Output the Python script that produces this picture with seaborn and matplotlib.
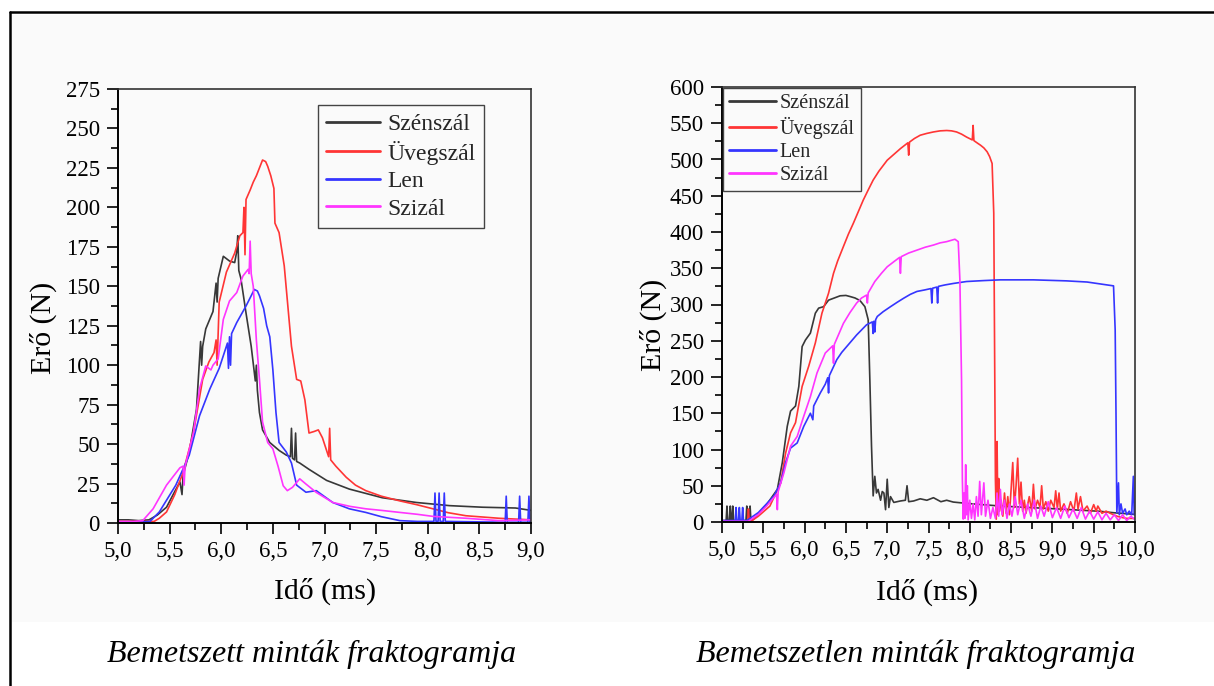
import numpy as np
import pandas as pd
import matplotlib
matplotlib.use("Agg")
import matplotlib.pyplot as plt
import seaborn as sns
from matplotlib.ticker import MultipleLocator, FuncFormatter
from matplotlib.lines import Line2D
from matplotlib.patches import Rectangle

# ---------------- data : left panel (Bemetszett) ----------------
series_names = ["Szénszál", "Üvegszál", "Len", "Szizál"]
series_colors = ["#383838", "#ff3535", "#3535ff", "#ff35ff"]

L_szen_t = [5.00, 5.10, 5.20, 5.30, 5.38, 5.47, 5.55, 5.60, 5.62, 5.63, 5.69, 5.76, 5.80, 5.81, 5.82,
            5.85, 5.92, 5.95, 5.96, 5.97, 6.02, 6.08, 6.13, 6.15, 6.16, 6.17, 6.19, 6.24, 6.29, 6.33,
            6.34, 6.35, 6.37, 6.40, 6.47, 6.56, 6.63, 6.67, 6.68, 6.69, 6.71, 6.72, 6.73, 6.76, 6.85,
            7.02, 7.24, 7.56, 7.89, 8.21, 8.53, 8.85, 9.00]
L_szen_F = [2, 2, 1.5, 2, 5, 10, 20, 26, 18, 30, 45, 72, 115, 100, 112,
            123, 134, 152, 140, 155, 169, 166, 165, 172, 182, 160, 155, 133, 112, 90,
            100, 84, 70, 59, 51, 46, 43, 42, 60, 41, 40, 57, 39, 38, 34,
            27, 21.5, 16, 13, 11, 10, 9.5, 8]

L_uveg_t = [5.00, 5.20, 5.35, 5.40, 5.47, 5.55, 5.63, 5.73, 5.82, 5.88, 5.93, 5.95, 5.96, 5.98, 6.05,
            6.13, 6.18, 6.21, 6.22, 6.23, 6.24, 6.28, 6.31, 6.34, 6.37, 6.40, 6.43, 6.45, 6.48, 6.51,
            6.52, 6.56, 6.61, 6.68, 6.73, 6.77, 6.81, 6.85, 6.90, 6.94, 6.98, 7.04, 7.05, 7.06, 7.11,
            7.21, 7.30, 7.40, 7.55, 7.73, 7.90, 8.05, 8.20, 8.37, 8.69, 9.00]
L_uveg_F = [1, 1, 1, 3, 7, 18, 32, 57, 91, 102, 108, 116, 100, 140, 159,
            171, 182, 184, 200, 170, 205, 211, 216, 220, 225, 230, 229, 226, 220, 212,
            190, 184, 163, 112, 91, 90, 78, 57, 58, 59, 54, 42, 60, 40, 36,
            29, 24, 20.5, 17, 14, 11.5, 9, 6.5, 4.6, 3, 2]

L_len_t = [5.00, 5.20, 5.31, 5.40, 5.56, 5.69, 5.79, 5.89, 5.98, 6.06, 6.07, 6.08, 6.09, 6.10, 6.15,
           6.24, 6.29, 6.32, 6.35, 6.37, 6.41, 6.44, 6.47, 6.50, 6.53, 6.56, 6.63, 6.68, 6.73, 6.82,
           6.92, 7.08, 7.24, 7.40, 7.55, 7.73, 7.90, 8.05, 8.06, 8.07, 8.08, 8.10, 8.11, 8.12, 8.15,
           8.16, 8.17, 8.75, 8.76, 8.77, 8.88, 8.89, 8.90, 8.97, 8.98, 8.99, 9.00]
L_len_F = [0.5, 0.5, 1, 7, 24, 43, 68, 85, 98, 114, 98, 118, 100, 120, 127,
           137.5, 144, 148, 147, 144, 136, 125, 118, 97, 70, 51, 45, 38, 24, 19.5,
           20.5, 13, 9, 6.7, 4, 1.5, 1, 1, 1, 19, 1, 1, 19, 1, 1,
           19, 1, 0.5, 17, 0.5, 0.5, 17, 0.5, 0.5, 17, 0.5, 0.5]

L_sziz_t = [5.00, 5.15, 5.24, 5.34, 5.47, 5.60, 5.63, 5.64, 5.65, 5.73, 5.79, 5.85, 5.90, 5.92, 5.97,
            6.02, 6.08, 6.15, 6.21, 6.26, 6.27, 6.28, 6.29, 6.31, 6.34, 6.37, 6.40, 6.45, 6.50, 6.55,
            6.60, 6.64, 6.69, 6.76, 6.82, 6.92, 7.08, 7.25, 7.40, 7.55, 7.73, 7.90, 8.05, 8.37, 8.69,
            9.00]
L_sziz_F = [1, 1, 1.5, 9, 24, 35, 36, 24, 36, 57, 85, 99.5, 97, 100, 104,
            129, 140.7, 146, 156.5, 160.7, 158, 178.6, 158, 150, 116, 91, 64, 51, 47, 36,
            23.6, 20.5, 22.6, 28, 24.7, 19.4, 13, 10.5, 9, 8, 6.7, 5.5, 4.2, 3, 1.5,
            2]

# ---------------- data : right panel (Bemetszetlen) ----------------
R_szen_t = [5.00, 5.05, 5.06, 5.07, 5.09, 5.10, 5.11, 5.12, 5.13, 5.14, 5.29, 5.30, 5.31, 5.33, 5.34,
            5.35, 5.38, 5.54, 5.67, 5.73, 5.79, 5.83, 5.89, 5.93, 5.97, 6.01, 6.07, 6.13, 6.17, 6.23,
            6.29, 6.36, 6.43, 6.50, 6.55, 6.61, 6.67, 6.73, 6.77, 6.79, 6.81, 6.83, 6.85, 6.87, 6.89,
            6.92, 6.94, 6.96, 6.98, 7.00, 7.02, 7.04, 7.08, 7.16, 7.22, 7.24, 7.26, 7.32, 7.40, 7.48,
            7.56, 7.65, 7.72, 7.80, 7.96, 8.37, 8.77, 9.17, 9.58, 9.74, 10.00]
R_szen_F = [2, 2, 22, 2, 2, 22, 2, 2, 22, 2, 2, 22, 2, 2, 22,
            2, 3.7, 24, 45, 82, 132, 153, 160, 187, 242, 251, 260.5, 288, 295, 297,
            306, 309, 312, 312.5, 311, 309, 305.5, 297, 279, 196, 105, 36, 63, 40, 45,
            30, 42, 40, 17, 59, 20, 35, 27, 29, 30, 50, 28, 29, 32, 30,
            33.5, 28, 30, 27.5, 25.7, 22, 19.7, 17.4, 14.7, 12.8, 10.5]

R_uveg_t = [5.00, 5.31, 5.32, 5.33, 5.34, 5.44, 5.58, 5.71, 5.77, 5.83, 5.89, 5.97, 6.05, 6.13, 6.21,
            6.29, 6.35, 6.40, 6.47, 6.53, 6.59, 6.65, 6.71, 6.77, 6.83, 6.90, 7.00, 7.08, 7.16, 7.25,
            7.26, 7.27, 7.33, 7.40, 7.48, 7.56, 7.64, 7.72, 7.78, 7.84, 7.90, 7.96, 8.03, 8.04, 8.05,
            8.10, 8.13, 8.17, 8.21, 8.24, 8.27, 8.29, 8.30, 8.31, 8.32, 8.33, 8.34, 8.35, 8.36, 8.38,
            8.40, 8.42, 8.44, 8.46, 8.48, 8.50, 8.52, 8.54, 8.56, 8.58, 8.60, 8.62, 8.64, 8.66, 8.68,
            8.72, 8.75, 8.77, 8.79, 8.82, 8.85, 8.87, 8.89, 8.92, 8.95, 8.98, 9.02, 9.04, 9.06, 9.08,
            9.10, 9.14, 9.18, 9.22, 9.26, 9.29, 9.31, 9.34, 9.37, 9.42, 9.46, 9.50, 9.53, 9.55, 9.60,
            9.65, 9.70, 9.74, 9.78, 9.85, 9.90, 10.00]
R_uveg_F = [0, 0, 18, 0, 0, 8, 22, 54, 95, 123, 137, 187, 215, 247, 288,
            315.6, 343, 360, 380, 397, 412, 428, 444, 458, 471.6, 484, 499, 507, 515, 523,
            506, 524, 529, 533.5, 536, 538, 539.5, 540, 539.5, 538, 535, 531, 527, 547, 526,
            522, 519.7, 516, 510.6, 504, 494.5, 426, 242, 59, 4, 111, 10, 60, 15, 30,
            8, 40, 12, 35, 10, 45, 82, 20, 50, 88, 25, 55, 15, 30, 12,
            35, 15, 52, 18, 30, 20, 50, 18, 28, 15, 30, 20, 43, 18, 40,
            15, 25, 12, 28, 15, 40, 18, 35, 15, 22, 12, 24, 15, 22, 12,
            15, 12, 10, 8, 6, 5, 5]

R_len_t = [5.00, 5.16, 5.17, 5.18, 5.20, 5.21, 5.22, 5.24, 5.25, 5.26, 5.30, 5.44, 5.63, 5.71, 5.77,
           5.83, 5.91, 5.99, 6.07, 6.10, 6.11, 6.19, 6.25, 6.28, 6.29, 6.30, 6.39, 6.45, 6.51, 6.57,
           6.63, 6.69, 6.75, 6.82, 6.83, 6.84, 6.85, 6.86, 6.88, 6.95, 7.04, 7.12, 7.20, 7.28, 7.36,
           7.45, 7.53, 7.54, 7.55, 7.60, 7.61, 7.62, 7.70, 7.80, 7.96, 8.17, 8.37, 8.77, 9.17, 9.42,
           9.74, 9.76, 9.77, 9.78, 9.80, 9.81, 9.83, 9.85, 9.88, 9.90, 9.93, 9.96, 9.98, 9.99, 10.00]
R_len_F = [2, 2, 20, 2, 2, 20, 2, 2, 20, 2, 2, 13, 36, 54, 82,
           102, 109, 132, 150, 141, 160, 178, 190, 199, 178, 202, 224, 234, 242, 250,
           258, 265, 272, 276, 260, 277, 262, 279, 283.5, 290, 297, 303, 308.7, 314, 318,
           320, 322, 302, 322.5, 324, 302, 325, 327, 329, 331.7, 333, 334, 334, 332.6, 331,
           325.7, 265, 150, 13, 54, 10, 25, 12, 18, 10, 15, 10, 63, 10, 10]

R_sziz_t = [5.00, 5.32, 5.44, 5.54, 5.66, 5.67, 5.68, 5.75, 5.83, 5.91, 5.99, 6.07, 6.15, 6.25, 6.34,
            6.35, 6.36, 6.47, 6.55, 6.63, 6.69, 6.75, 6.76, 6.77, 6.85, 6.93, 7.00, 7.08, 7.15, 7.16,
            7.17, 7.26, 7.36, 7.46, 7.56, 7.64, 7.72, 7.82, 7.86, 7.88, 7.90, 7.91, 7.92, 7.93, 7.94,
            7.95, 7.96, 7.97, 7.98, 8.00, 8.02, 8.04, 8.06, 8.08, 8.10, 8.12, 8.14, 8.17, 8.19, 8.22,
            8.25, 8.28, 8.31, 8.33, 8.35, 8.37, 8.39, 8.42, 8.45, 8.48, 8.51, 8.55, 8.58, 8.62, 8.66,
            8.70, 8.74, 8.78, 8.82, 8.86, 8.90, 8.95, 9.00, 9.05, 9.10, 9.15, 9.20, 9.25, 9.30, 9.35,
            9.40, 9.45, 9.50, 9.55, 9.60, 9.65, 9.70, 9.75, 9.80, 9.85, 9.90, 9.95, 10.00]
R_sziz_F = [1, 1, 10.5, 22, 38, 17, 42, 68, 104.6, 118, 146, 173, 205.5, 233, 243,
            219, 245, 274, 289, 302, 309, 313, 302, 316, 331.7, 343, 352, 359, 365, 343,
            366, 371, 375, 379, 382, 385, 386.7, 390, 386.7, 334, 196, 59, 4, 40, 5,
            79, 10, 50, 3, 30, 5, 25, 3, 35, 8, 56, 10, 54, 8, 30,
            5, 20, 5, 40, 8, 45, 10, 30, 5, 25, 8, 35, 10, 30, 5,
            25, 8, 30, 5, 22, 8, 28, 6, 20, 5, 22, 6, 18, 5, 20,
            4, 15, 4, 14, 3, 12, 3, 10, 2, 10, 2, 8, 3]

left_xrange = (5.0, 9.0)
left_yrange = (0, 275)
right_xrange = (5.0, 10.0)
right_yrange = (0, 600)

x_label = "Idő (ms)"
y_label = "Erő (N)"
caption_left = "Bemetszett minták fraktogramja"
caption_right = "Bemetszetlen minták fraktogramja"


def make_df(ts, fs):
    frames = []
    for name, t, f in zip(series_names, ts, fs):
        frames.append(pd.DataFrame({"t": t, "F": f, "series": name}))
    return pd.concat(frames, ignore_index=True)


df_left = make_df([L_szen_t, L_uveg_t, L_len_t, L_sziz_t], [L_szen_F, L_uveg_F, L_len_F, L_sziz_F])
df_right = make_df([R_szen_t, R_uveg_t, R_len_t, R_sziz_t], [R_szen_F, R_uveg_F, R_len_F, R_sziz_F])

# ---------------- style ----------------
sns.set_style("ticks")
plt.rcParams["font.family"] = ["Liberation Serif", "DejaVu Serif"]
plt.rcParams["axes.unicode_minus"] = False

W, H = 1214, 686
fig = plt.figure(figsize=(W / 100, H / 100), dpi=100)
fig.patch.set_facecolor("white")

# faint background panel and frame lines
fig.add_artist(Rectangle((12 / W, 1 - 622 / H), (W - 12) / W, (622 - 15) / H,
                         transform=fig.transFigure, facecolor="#fafafa", edgecolor="none", zorder=-5))
fig.add_artist(Line2D([10 / W, 1.0], [1 - 12 / H, 1 - 12 / H], transform=fig.transFigure,
                      color="black", lw=1.8))
fig.add_artist(Line2D([10 / W, 10 / W], [1 - 12 / H, 0.0], transform=fig.transFigure,
                      color="black", lw=1.8))

palette = dict(zip(series_names, series_colors))
comma_fmt = FuncFormatter(lambda v, p: f"{v:.1f}".replace(".", ","))


def style_axes(ax, xr, yr, ymaj, ymin):
    ax.set_facecolor("none")
    ax.set_xlim(*xr)
    ax.set_ylim(*yr)
    ax.xaxis.set_major_locator(MultipleLocator(0.5))
    ax.xaxis.set_minor_locator(MultipleLocator(0.25))
    ax.yaxis.set_major_locator(MultipleLocator(ymaj))
    ax.yaxis.set_minor_locator(MultipleLocator(ymin))
    ax.xaxis.set_major_formatter(comma_fmt)
    ax.tick_params(which="both", direction="out", top=False, right=False, colors="black",
                   width=1.2)
    ax.tick_params(which="major", length=8, labelsize=16.5)
    ax.tick_params(axis="x", which="major", pad=5)
    ax.tick_params(axis="y", which="major", pad=5)
    ax.tick_params(which="minor", length=5)
    for s in ["left", "bottom"]:
        ax.spines[s].set_color("black")
        ax.spines[s].set_linewidth(1.4)
    for s in ["top", "right"]:
        ax.spines[s].set_color("#333333")
        ax.spines[s].set_linewidth(1.2)
    ax.set_xlabel(x_label, fontsize=21.5, color="black")
    ax.set_ylabel(y_label, fontsize=21.5, color="black")


# left axes
ax1 = fig.add_axes([118 / W, (H - 523) / H, 413 / W, 434 / H])
sns.lineplot(data=df_left, x="t", y="F", hue="series", hue_order=series_names, palette=palette,
             estimator=None, sort=False, lw=1.2, legend=False, ax=ax1)
style_axes(ax1, left_xrange, left_yrange, 25, 12.5)
ax1.xaxis.set_label_coords(0.501, (523 - 578) / 434)
ax1.yaxis.set_label_coords((57 - 118) / 413, (523 - 328) / 434)

# right axes
ax2 = fig.add_axes([722 / W, (H - 522) / H, 413 / W, 435 / H])
sns.lineplot(data=df_right, x="t", y="F", hue="series", hue_order=series_names, palette=palette,
             estimator=None, sort=False, lw=1.2, legend=False, ax=ax2)
style_axes(ax2, right_xrange, right_yrange, 50, 25)
ax2.xaxis.set_label_coords(0.4976, (522 - 579) / 435)
ax2.yaxis.set_label_coords((667 - 722) / 413, (522 - 325) / 435)

# legends
handles = [Line2D([], [], color=c, lw=2.0) for c in series_colors]
leg1 = ax1.legend(handles, series_names, loc="upper left", bbox_to_anchor=(0.484, 0.963),
                  borderaxespad=0, fontsize=17, handlelength=2.3, handletextpad=0.3,
                  labelspacing=0.25, borderpad=0.35, frameon=True, fancybox=False,
                  framealpha=1, facecolor="#fafafa", edgecolor="#444444")
leg1.get_frame().set_linewidth(1.0)
leg2 = ax2.legend(handles, series_names, loc="upper left", bbox_to_anchor=(0.003, 0.998),
                  borderaxespad=0, fontsize=14.5, handlelength=2.3, handletextpad=0.2,
                  labelspacing=0.2, borderpad=0.3, frameon=True, fancybox=False,
                  framealpha=1, facecolor="#fafafa", edgecolor="#444444")
leg2.get_frame().set_linewidth(1.0)

# captions
fig.text(312 / W, 1 - 662 / H, caption_left, ha="center", va="baseline", fontsize=23,
         style="italic", color="black")
fig.text(916 / W, 1 - 662 / H, caption_right, ha="center", va="baseline", fontsize=23,
         style="italic", color="black")

fig.savefig("out.png", dpi=100, facecolor=fig.get_facecolor())
